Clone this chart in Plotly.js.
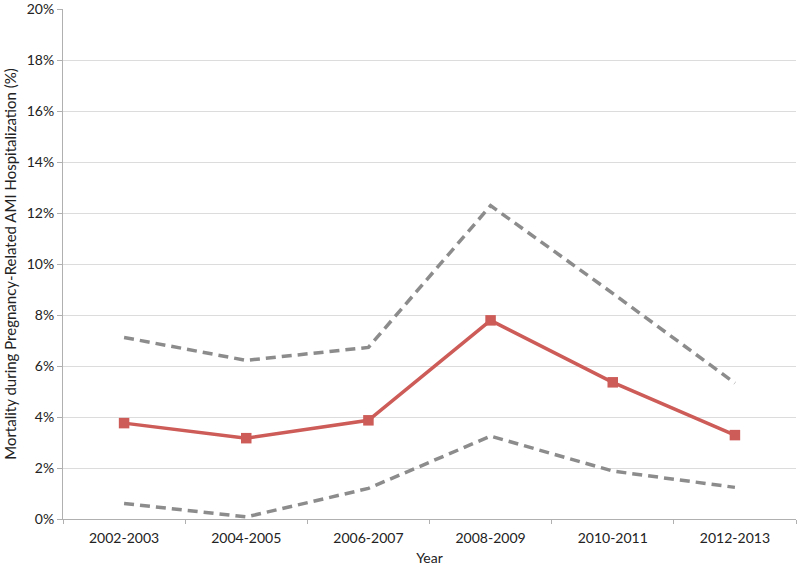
<!DOCTYPE html>
<html>
<head>
<meta charset="utf-8">
<script src="https://cdn.plot.ly/plotly-3.0.1.min.js"></script>
<style>html,body{margin:0;padding:0;background:#fff;}#chart{width:800px;height:567px;}</style>
</head>
<body>
<div id="chart"></div>
<script>
const categories = ["2002-2003","2004-2005","2006-2007","2008-2009","2010-2011","2012-2013"];
const mortality = [3.76, 3.17, 3.87, 7.79, 5.36, 3.29];
const upperCI = [7.12, 6.22, 6.73, 12.29, 8.85, 5.33];
const lowerCI = [0.61, 0.08, 1.20, 3.25, 1.88, 1.24];
const yTicks = [0,2,4,6,8,10,12,14,16,18,20];
const yTickLabels = yTicks.map(v => v + "%");

const dashStyle = {color:"#8c8c8c", width:3.5, dash:"10px,6px"};
const traces = [
  {x:categories, y:upperCI, type:"scatter", mode:"lines", line:dashStyle, hoverinfo:"skip"},
  {x:categories, y:lowerCI, type:"scatter", mode:"lines", line:dashStyle, hoverinfo:"skip"},
  {x:categories, y:mortality, type:"scatter", mode:"lines+markers",
   line:{color:"#cd5b57", width:3.5},
   marker:{symbol:"square", size:10.5, color:"#cd5b57"}}
];
const layout = {
  width:800, height:567,
  margin:{l:63, r:4, t:9, b:48},
  paper_bgcolor:"#fff", plot_bgcolor:"#fff",
  showlegend:false,
  font:{family:"Lato, 'Open Sans', sans-serif", size:14, color:"#222"},
  xaxis:{
    type:"category", range:[-0.5, 5.5],
    showline:true, linecolor:"#b0b0b0", linewidth:1,
    ticks:"outside", tickson:"boundaries", ticklen:4, tickcolor:"#b0b0b0",
    ticklabelstandoff:6,
    showgrid:false, zeroline:false,
    tickfont:{size:14, color:"#222"},
    title:{text:"Year", font:{size:14, color:"#222"}, standoff:8}
  },
  yaxis:{
    range:[0,20], tickvals:yTicks, ticktext:yTickLabels,
    ticklabeloverflow:"allow",
    showline:true, linecolor:"#b0b0b0", linewidth:1,
    ticks:"outside", ticklen:5, tickcolor:"#b0b0b0",
    showgrid:true, gridcolor:"#dcdcdc", gridwidth:1, zeroline:false,
    tickfont:{size:14, color:"#222"},
    title:{text:"Mortality during Pregnancy-Related AMI Hospitalization (%)", font:{size:15, color:"#222"}, standoff:6}
  }
};
Plotly.newPlot("chart", traces, layout, {displayModeBar:false, staticPlot:true});
</script>
</body>
</html>
